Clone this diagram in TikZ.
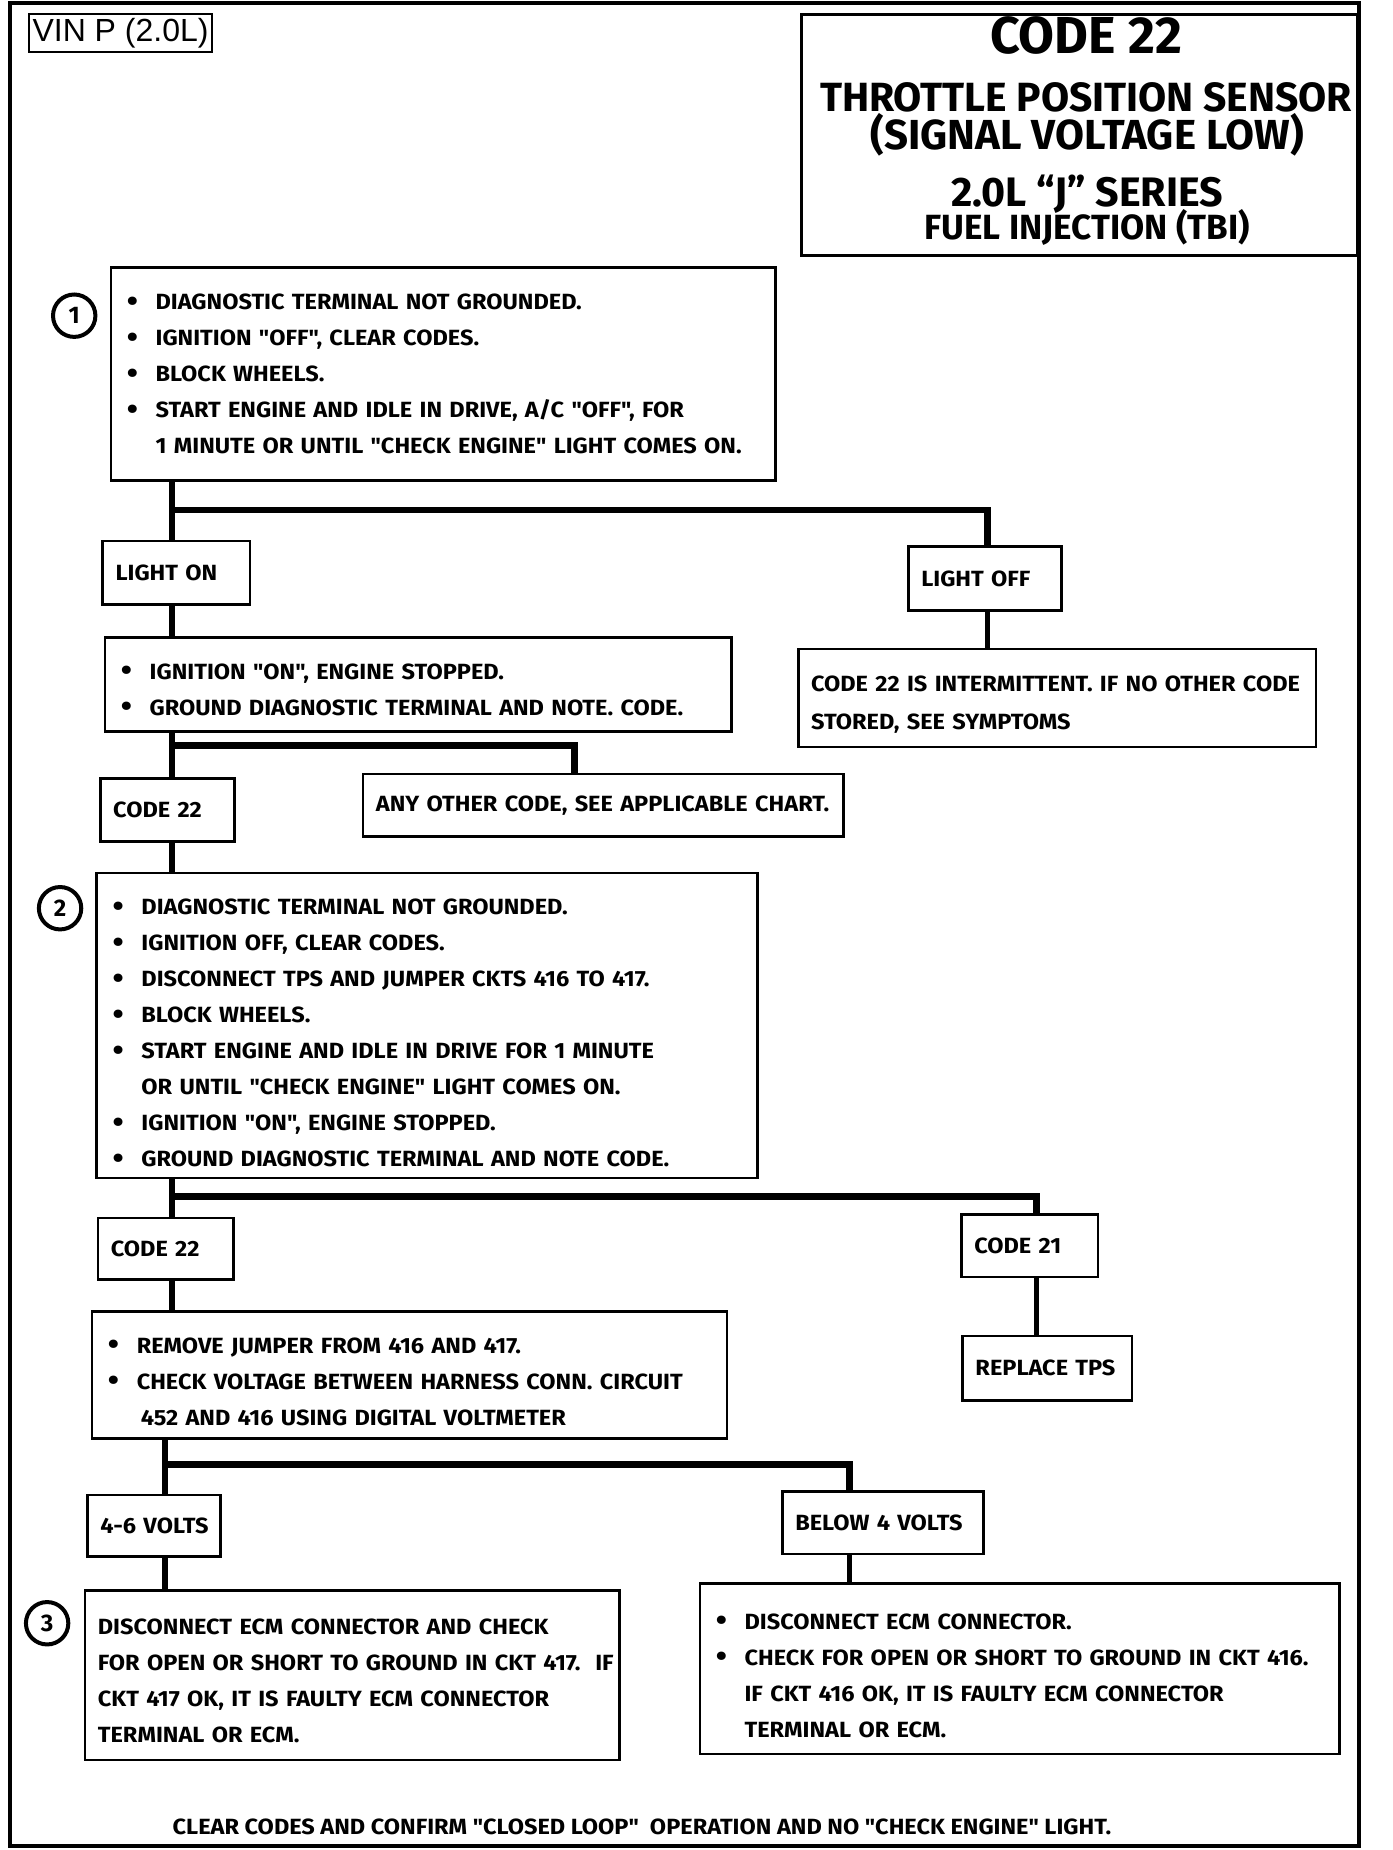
\documentclass[tikz,border=0pt]{standalone}
\usepackage{fontspec}
\setmainfont{Fira Sans}[FakeStretch=1.07,Ligatures=TeXOff]
\newfontfamily\titlefont{Fira Sans}[Ligatures=TeXOff]
\newfontfamily\vinfont{Liberation Sans}
\newdimen\ux \ux=0.589pt
\newcommand{\bodyfont}{\bfseries\fontsize{11}{18}\selectfont}
\newcommand{\bul}{\hspace*{1.5pt}\makebox[14.4pt][l]{\raisebox{-0.8pt}{\fontsize{15}{15}\selectfont\textbullet}}}
\newcommand{\ind}{\hspace*{15.9pt}}
\newcommand{\pad}[1]{\rule{0pt}{#1}}
\tikzset{
    chartbox/.style={draw,line width=1.3pt,anchor=north west,inner xsep=11\ux,inner ysep=0pt,align=left,font=\bodyfont},
    stepnum/.style={circle,draw,line width=2pt,minimum size=36\ux,inner sep=0pt,font=\titlefont\bfseries\fontsize{12}{12}\selectfont},
    headline/.style={anchor=base,inner sep=0pt},
    link/.style={line width=2.6pt},
    branch/.style={line width=3.4pt}
}
\begin{document}
\begin{tikzpicture}[x=0.589pt,y=-0.589pt]
\useasboundingbox (0,0) rectangle (1181.7,1570.5);
\draw[line width=2.2pt] (8.5,2.5) rectangle (1153.6,1567);

% header
\node[draw,line width=1pt,anchor=north west,minimum width=155\ux,minimum height=32\ux,inner sep=0pt,font=\vinfont\fontsize{16}{16}\selectfont] (vin) at (24,11) {VIN P (2.0L)};
\node[draw,line width=1.5pt,anchor=north west,minimum width=472\ux,minimum height=205\ux,inner sep=0pt] (title) at (679,11) {};
\node[headline,font=\titlefont\bfseries\fontsize{26}{26}\selectfont] (t1) at (922,45.5) {CODE 22};
\node[headline,font=\titlefont\bfseries\fontsize{20.4}{21}\selectfont] (t2) at (922,95) {THROTTLE POSITION SENSOR};
\node[headline,font=\titlefont\bfseries\fontsize{21}{21}\selectfont] (t3) at (923,127) {(SIGNAL VOLTAGE LOW)};
\node[headline,font=\titlefont\bfseries\fontsize{20.6}{21}\selectfont] (t4) at (923,175) {2.0L “J” SERIES};
\node[headline,font=\titlefont\bfseries\fontsize{17.5}{18}\selectfont] (t5) at (923,203) {FUEL INJECTION (TBI)};

% step 1
\node[stepnum] (n1) at (63,268) {1};
\node[chartbox,text width=542\ux,minimum height=181\ux] (box1) at (93,226) {\bul DIAGNOSTIC TERMINAL NOT GROUNDED.\\
\bul IGNITION "OFF", CLEAR CODES.\\
\bul BLOCK WHEELS.\\
\bul START  ENGINE AND IDLE IN DRIVE, A/C "OFF",  FOR\\
\ind 1 MINUTE OR UNTIL "CHECK ENGINE" LIGHT COMES ON.};

\node[chartbox,text width=103\ux,minimum height=54\ux] (lighton) at (86,458) {LIGHT ON};
\node[chartbox,text width=108\ux,minimum height=54\ux] (lightoff) at (770,463) {LIGHT OFF};

\node[chartbox,text width=510\ux,minimum height=80\ux] (boxA) at (88,540) {\pad{13.5pt}\bul IGNITION "ON", ENGINE STOPPED.\\
\bul GROUND DIAGNOSTIC TERMINAL AND NOTE. CODE.};
\node[chartbox,inner xsep=7\ux,text width=425\ux,minimum height=83\ux] (boxB) at (677,550) {\pad{14.7pt}\hspace*{2pt}CODE 22 IS INTERMITTENT.  IF NO OTHER CODE\\[1pt]
\hspace*{2pt}STORED, SEE SYMPTOMS};

\node[chartbox,text width=92\ux,minimum height=53\ux] (code22a) at (84,660) {CODE 22};
\node[chartbox,text width=386\ux,minimum height=53\ux] (anyother) at (307,656) {ANY OTHER CODE, SEE APPLICABLE CHART.};

% step 2
\node[stepnum] (n2) at (51,771) {2};
\node[chartbox,text width=539\ux,minimum height=259\ux] (box2) at (81,740) {\pad{15.9pt}\bul DIAGNOSTIC TERMINAL NOT GROUNDED.\\
\bul IGNITION OFF, CLEAR CODES.\\
\bul DISCONNECT TPS AND JUMPER CKTS 416 TO 417.\\
\bul BLOCK WHEELS.\\
\bul START ENGINE AND IDLE IN DRIVE FOR 1 MINUTE\\
\ind OR UNTIL "CHECK ENGINE" LIGHT COMES ON.\\
\bul IGNITION "ON", ENGINE STOPPED.\\
\bul GROUND DIAGNOSTIC TERMINAL AND NOTE CODE.};

\node[chartbox,text width=93\ux,minimum height=52\ux] (code22b) at (82,1033) {CODE 22};
\node[chartbox,text width=94\ux,minimum height=53\ux] (code21) at (815,1030) {CODE 21};
\node[chartbox,text width=122\ux,minimum height=55\ux] (replace) at (816,1133) {REPLACE TPS};

\node[chartbox,text width=517\ux,minimum height=108\ux] (boxC) at (77,1112) {\pad{14.7pt}\bul REMOVE JUMPER FROM 416 AND 417.\\
\bul CHECK VOLTAGE BETWEEN HARNESS CONN. CIRCUIT\\
\ind\hspace*{2pt}452  AND 416  USING DIGITAL VOLTMETER};

\node[chartbox,text width=91\ux,minimum height=52\ux] (volts46) at (73,1268) {\mbox{4-6 VOLTS}};
\node[chartbox,text width=149\ux,minimum height=53\ux] (below) at (663,1265) {BELOW 4 VOLTS};

% step 3
\node[stepnum] (n3) at (40,1378) {3};
\node[chartbox,text width=432\ux,minimum height=144\ux] (box3l) at (71,1349) {\pad{13.5pt}DISCONNECT ECM  CONNECTOR AND CHECK\\
\mbox{FOR OPEN OR SHORT TO GROUND IN CKT 417.\ \ IF}\\
CKT 417 OK,  IT IS FAULTY ECM CONNECTOR\\
TERMINAL OR ECM.};
\node[chartbox,text width=521\ux,minimum height=145\ux] (box3r) at (593,1343) {\pad{14.7pt}\bul DISCONNECT ECM  CONNECTOR.\\
\bul CHECK FOR OPEN OR SHORT TO GROUND IN CKT 416.\\
\ind IF CKT 416 OK,  IT IS FAULTY ECM CONNECTOR\\
\ind TERMINAL OR ECM.};

\node[font=\bodyfont] (confirm) at (545,1551) {CLEAR CODES AND CONFIRM "CLOSED LOOP"\ \ OPERATION AND NO "CHECK ENGINE" LIGHT.};

% connectors
\coordinate (j1) at (146,433);
\coordinate (k1) at (838,433);
\coordinate (j2) at (146,633);
\coordinate (k2) at (488,633);
\coordinate (j3) at (146,1016);
\coordinate (k3) at (880,1016);
\coordinate (j4) at (140,1243);
\coordinate (k4) at (721,1243);

\draw[link] (box1.south -| j1) -- (lighton.north -| j1);
\draw[branch] (j1) -| (k1 |- lightoff.north);
\draw[link] (lighton.south -| j1) -- (boxA.north -| j1);
\draw[link] (lightoff.south -| k1) -- (boxB.north -| k1);

\draw[link] (boxA.south -| j2) -- (code22a.north -| j2);
\draw[branch] (j2) -| (k2 |- anyother.north);
\draw[link] (code22a.south -| j2) -- (box2.north -| j2);

\draw[link] (box2.south -| j3) -- (code22b.north -| j3);
\draw[branch] (j3) -| (k3 |- code21.north);
\draw[link] (code21.south -| k3) -- (replace.north -| k3);
\draw[link] (code22b.south -| j3) -- (boxC.north -| j3);

\draw[link] (boxC.south -| j4) -- (volts46.north -| j4);
\draw[branch] (j4) -| (k4 |- below.north);
\draw[link] (volts46.south -| j4) -- (box3l.north -| j4);
\draw[link] (below.south -| k4) -- (box3r.north -| k4);
\end{tikzpicture}
\end{document}
